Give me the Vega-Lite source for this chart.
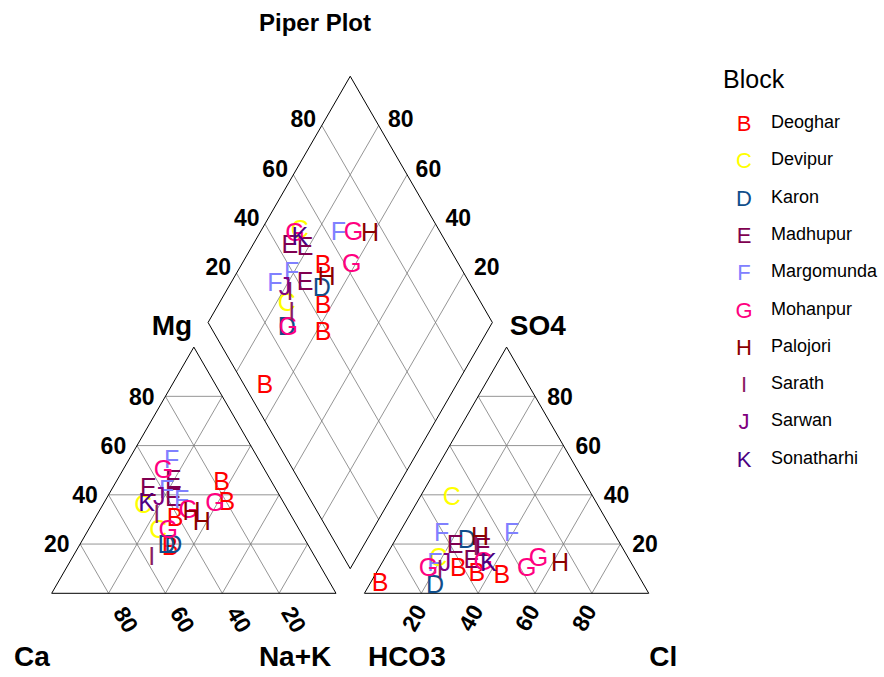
{
  "$schema": "https://vega.github.io/schema/vega-lite/v6.json",
  "width": 884,
  "height": 677,
  "autosize": {"type": "none"},
  "padding": 0,
  "background": "white",
  "config": {"view": {"stroke": null}, "font": "Liberation Sans"},
  "title": {"text": "Piper Plot", "fontSize": 24, "fontWeight": "bold", "font": "Liberation Sans", "color": "black", "anchor": "middle", "frame": "group", "dx": -127, "offset": -36},
  "datasets": {
    "grid": [
      {"x": 10, "y": 17.32, "x2": 90, "y2": 17.32},
      {"x": 20, "y": 34.64, "x2": 80, "y2": 34.64},
      {"x": 30, "y": 51.96, "x2": 70, "y2": 51.96},
      {"x": 40, "y": 69.28, "x2": 60, "y2": 69.28},
      {"x": 80, "y": 0, "x2": 40, "y2": 69.28},
      {"x": 60, "y": 0, "x2": 30, "y2": 51.96},
      {"x": 40, "y": 0, "x2": 20, "y2": 34.64},
      {"x": 20, "y": 0, "x2": 10, "y2": 17.32},
      {"x": 20, "y": 0, "x2": 60, "y2": 69.28},
      {"x": 40, "y": 0, "x2": 70, "y2": 51.96},
      {"x": 60, "y": 0, "x2": 80, "y2": 34.64},
      {"x": 80, "y": 0, "x2": 90, "y2": 17.32},
      {"x": 120, "y": 17.32, "x2": 200, "y2": 17.32},
      {"x": 130, "y": 34.64, "x2": 190, "y2": 34.64},
      {"x": 140, "y": 51.96, "x2": 180, "y2": 51.96},
      {"x": 150, "y": 69.28, "x2": 170, "y2": 69.28},
      {"x": 190, "y": 0, "x2": 150, "y2": 69.28},
      {"x": 170, "y": 0, "x2": 140, "y2": 51.96},
      {"x": 150, "y": 0, "x2": 130, "y2": 34.64},
      {"x": 130, "y": 0, "x2": 120, "y2": 17.32},
      {"x": 130, "y": 0, "x2": 170, "y2": 69.28},
      {"x": 150, "y": 0, "x2": 180, "y2": 51.96},
      {"x": 170, "y": 0, "x2": 190, "y2": 34.64},
      {"x": 190, "y": 0, "x2": 200, "y2": 17.32},
      {"x": 115, "y": 25.98, "x2": 65, "y2": 112.58},
      {"x": 125, "y": 43.30, "x2": 75, "y2": 129.9},
      {"x": 135, "y": 60.62, "x2": 85, "y2": 147.22},
      {"x": 145, "y": 77.94, "x2": 95, "y2": 164.54},
      {"x": 95, "y": 25.98, "x2": 145, "y2": 112.58},
      {"x": 85, "y": 43.30, "x2": 135, "y2": 129.9},
      {"x": 75, "y": 60.62, "x2": 125, "y2": 147.22},
      {"x": 65, "y": 77.94, "x2": 115, "y2": 164.54}
    ],
    "outline": [
      {"x": 0, "y": 0, "x2": 100, "y2": 0},
      {"x": 0, "y": 0, "x2": 50, "y2": 86.6},
      {"x": 100, "y": 0, "x2": 50, "y2": 86.6},
      {"x": 110, "y": 0, "x2": 210, "y2": 0},
      {"x": 110, "y": 0, "x2": 160, "y2": 86.6},
      {"x": 210, "y": 0, "x2": 160, "y2": 86.6},
      {"x": 105, "y": 8.66, "x2": 55, "y2": 95.26},
      {"x": 55, "y": 95.26, "x2": 105, "y2": 181.87},
      {"x": 105, "y": 181.87, "x2": 155, "y2": 95.26},
      {"x": 155, "y": 95.26, "x2": 105, "y2": 8.66}
    ],
    "ticks": [
      {"side": "plain", "label": "80", "x": 31.7, "y": 68.6},
      {"side": "plain", "label": "60", "x": 21.7, "y": 51.6},
      {"side": "plain", "label": "40", "x": 11.7, "y": 34.4},
      {"side": "plain", "label": "20", "x": 1.8, "y": 17.0},
      {"side": "plain", "label": "80", "x": 178.8, "y": 68.6},
      {"side": "plain", "label": "60", "x": 188.7, "y": 51.6},
      {"side": "plain", "label": "40", "x": 198.7, "y": 34.4},
      {"side": "plain", "label": "20", "x": 208.7, "y": 17.0},
      {"side": "plain", "label": "80", "x": 88.5, "y": 166.5},
      {"side": "plain", "label": "60", "x": 78.6, "y": 149.0},
      {"side": "plain", "label": "40", "x": 68.6, "y": 131.5},
      {"side": "plain", "label": "20", "x": 58.6, "y": 114.3},
      {"side": "plain", "label": "80", "x": 122.8, "y": 166.5},
      {"side": "plain", "label": "60", "x": 132.5, "y": 149.0},
      {"side": "plain", "label": "40", "x": 143.0, "y": 131.5},
      {"side": "plain", "label": "20", "x": 153.0, "y": 114.3},
      {"side": "cation", "label": "80", "x": 25.8, "y": -9.4},
      {"side": "cation", "label": "60", "x": 45.7, "y": -9.4},
      {"side": "cation", "label": "40", "x": 65.6, "y": -9.4},
      {"side": "cation", "label": "20", "x": 84.9, "y": -9.4},
      {"side": "anion", "label": "20", "x": 127.8, "y": -8.8},
      {"side": "anion", "label": "40", "x": 147.7, "y": -8.8},
      {"side": "anion", "label": "60", "x": 167.6, "y": -8.8},
      {"side": "anion", "label": "80", "x": 187.6, "y": -8.8}
    ],
    "names": [
      {"label": "Mg", "x": 42.3, "y": 93.7},
      {"label": "SO4", "x": 171.0, "y": 93.7},
      {"label": "Ca", "x": -7.0, "y": -22.9},
      {"label": "Na+K", "x": 85.6, "y": -22.9},
      {"label": "HCO3", "x": 124.9, "y": -22.9},
      {"label": "Cl", "x": 215.1, "y": -22.9}
    ],
    "blocks": [
      {"Block": "Deoghar"}, {"Block": "Devipur"}, {"Block": "Karon"}, {"Block": "Madhupur"}, {"Block": "Margomunda"},
      {"Block": "Mohanpur"}, {"Block": "Palojori"}, {"Block": "Sarath"}, {"Block": "Sarwan"}, {"Block": "Sonatharhi"}
    ],
    "points": [
      {"Block": "Deoghar", "letter": "B", "panel": "cation", "x": 59.8, "y": 39.3},
      {"Block": "Deoghar", "letter": "B", "panel": "cation", "x": 61.6, "y": 32.2},
      {"Block": "Deoghar", "letter": "B", "panel": "cation", "x": 43.4, "y": 26.4},
      {"Block": "Deoghar", "letter": "B", "panel": "cation", "x": 41.6, "y": 16.4},
      {"Block": "Deoghar", "letter": "B", "panel": "diamond", "x": 95.5, "y": 115.5},
      {"Block": "Deoghar", "letter": "B", "panel": "diamond", "x": 95.5, "y": 101.4},
      {"Block": "Deoghar", "letter": "B", "panel": "diamond", "x": 95.5, "y": 92.0},
      {"Block": "Deoghar", "letter": "B", "panel": "diamond", "x": 75.0, "y": 73.3},
      {"Block": "Deoghar", "letter": "B", "panel": "anion", "x": 115.5, "y": 3.5},
      {"Block": "Deoghar", "letter": "B", "panel": "anion", "x": 143.0, "y": 8.8},
      {"Block": "Deoghar", "letter": "B", "panel": "anion", "x": 149.5, "y": 7.0},
      {"Block": "Deoghar", "letter": "B", "panel": "anion", "x": 158.3, "y": 6.4},
      {"Block": "Devipur", "letter": "C", "panel": "cation", "x": 32.2, "y": 31.1},
      {"Block": "Devipur", "letter": "C", "panel": "cation", "x": 37.5, "y": 22.3},
      {"Block": "Devipur", "letter": "C", "panel": "diamond", "x": 87.3, "y": 127.8},
      {"Block": "Devipur", "letter": "C", "panel": "diamond", "x": 82.7, "y": 102.0},
      {"Block": "Devipur", "letter": "C", "panel": "anion", "x": 140.7, "y": 34.0},
      {"Block": "Devipur", "letter": "C", "panel": "anion", "x": 136.0, "y": 12.3},
      {"Block": "Karon", "letter": "D", "panel": "cation", "x": 40.4, "y": 17.0},
      {"Block": "Karon", "letter": "D", "panel": "cation", "x": 42.8, "y": 17.0},
      {"Block": "Karon", "letter": "D", "panel": "diamond", "x": 95.0, "y": 107.3},
      {"Block": "Karon", "letter": "D", "panel": "diamond", "x": 82.7, "y": 93.8},
      {"Block": "Karon", "letter": "D", "panel": "anion", "x": 146.0, "y": 18.7},
      {"Block": "Karon", "letter": "D", "panel": "anion", "x": 134.8, "y": 2.9},
      {"Block": "Madhupur", "letter": "E", "panel": "cation", "x": 42.8, "y": 39.9},
      {"Block": "Madhupur", "letter": "E", "panel": "cation", "x": 34.0, "y": 36.9},
      {"Block": "Madhupur", "letter": "E", "panel": "cation", "x": 42.8, "y": 33.4},
      {"Block": "Madhupur", "letter": "E", "panel": "diamond", "x": 83.8, "y": 122.5},
      {"Block": "Madhupur", "letter": "E", "panel": "diamond", "x": 89.1, "y": 121.9},
      {"Block": "Madhupur", "letter": "E", "panel": "diamond", "x": 89.1, "y": 109.6},
      {"Block": "Madhupur", "letter": "E", "panel": "anion", "x": 141.9, "y": 17.0},
      {"Block": "Madhupur", "letter": "E", "panel": "anion", "x": 147.8, "y": 11.7},
      {"Block": "Madhupur", "letter": "E", "panel": "anion", "x": 151.7, "y": 15.9},
      {"Block": "Margomunda", "letter": "F", "panel": "cation", "x": 42.2, "y": 46.9},
      {"Block": "Margomunda", "letter": "F", "panel": "cation", "x": 40.4, "y": 36.3},
      {"Block": "Margomunda", "letter": "F", "panel": "cation", "x": 45.7, "y": 32.8},
      {"Block": "Margomunda", "letter": "F", "panel": "diamond", "x": 100.8, "y": 127.2},
      {"Block": "Margomunda", "letter": "F", "panel": "diamond", "x": 84.4, "y": 113.1},
      {"Block": "Margomunda", "letter": "F", "panel": "diamond", "x": 78.5, "y": 109.0},
      {"Block": "Margomunda", "letter": "F", "panel": "anion", "x": 137.2, "y": 21.1},
      {"Block": "Margomunda", "letter": "F", "panel": "anion", "x": 161.8, "y": 21.1},
      {"Block": "Margomunda", "letter": "F", "panel": "anion", "x": 134.8, "y": 10.6},
      {"Block": "Mohanpur", "letter": "G", "panel": "cation", "x": 39.3, "y": 43.4},
      {"Block": "Mohanpur", "letter": "G", "panel": "cation", "x": 48.0, "y": 29.3},
      {"Block": "Mohanpur", "letter": "G", "panel": "cation", "x": 57.4, "y": 31.7},
      {"Block": "Mohanpur", "letter": "G", "panel": "cation", "x": 41.0, "y": 22.3},
      {"Block": "Mohanpur", "letter": "G", "panel": "diamond", "x": 85.6, "y": 126.6},
      {"Block": "Mohanpur", "letter": "G", "panel": "diamond", "x": 106.1, "y": 127.2},
      {"Block": "Mohanpur", "letter": "G", "panel": "diamond", "x": 105.5, "y": 115.8},
      {"Block": "Mohanpur", "letter": "G", "panel": "diamond", "x": 83.2, "y": 93.8},
      {"Block": "Mohanpur", "letter": "G", "panel": "anion", "x": 132.5, "y": 8.8},
      {"Block": "Mohanpur", "letter": "G", "panel": "anion", "x": 151.8, "y": 11.1},
      {"Block": "Mohanpur", "letter": "G", "panel": "anion", "x": 171.2, "y": 12.3},
      {"Block": "Mohanpur", "letter": "G", "panel": "anion", "x": 167.1, "y": 8.8},
      {"Block": "Palojori", "letter": "H", "panel": "cation", "x": 49.2, "y": 28.7},
      {"Block": "Palojori", "letter": "H", "panel": "cation", "x": 52.8, "y": 25.2},
      {"Block": "Palojori", "letter": "H", "panel": "diamond", "x": 112.0, "y": 126.6},
      {"Block": "Palojori", "letter": "H", "panel": "diamond", "x": 96.7, "y": 111.4},
      {"Block": "Palojori", "letter": "H", "panel": "anion", "x": 150.7, "y": 19.9},
      {"Block": "Palojori", "letter": "H", "panel": "anion", "x": 178.8, "y": 10.6},
      {"Block": "Sarath", "letter": "I", "panel": "cation", "x": 36.9, "y": 27.5},
      {"Block": "Sarath", "letter": "I", "panel": "cation", "x": 35.2, "y": 12.9},
      {"Block": "Sarath", "letter": "I", "panel": "diamond", "x": 83.8, "y": 106.0},
      {"Block": "Sarath", "letter": "I", "panel": "diamond", "x": 84.4, "y": 98.9},
      {"Block": "Sarath", "letter": "I", "panel": "anion", "x": 136.6, "y": 8.2},
      {"Block": "Sarath", "letter": "I", "panel": "anion", "x": 149.2, "y": 16.3},
      {"Block": "Sarwan", "letter": "J", "panel": "cation", "x": 37.8, "y": 34.0},
      {"Block": "Sarwan", "letter": "J", "panel": "diamond", "x": 82.1, "y": 107.8},
      {"Block": "Sarwan", "letter": "J", "panel": "anion", "x": 138.3, "y": 10.6},
      {"Block": "Sonatharhi", "letter": "K", "panel": "cation", "x": 33.4, "y": 31.7},
      {"Block": "Sonatharhi", "letter": "K", "panel": "diamond", "x": 87.3, "y": 125.4},
      {"Block": "Sonatharhi", "letter": "K", "panel": "anion", "x": 153.6, "y": 10.6}
    ]
  },
  "layer": [
    {
      "data": {"name": "grid"},
      "mark": {"type": "rule", "stroke": "#7a7a7a", "strokeWidth": 0.8},
      "encoding": {
        "x": {"field": "x", "type": "quantitative", "scale": {"domain": [-18.185, 292.75], "nice": false, "zero": false}, "axis": null},
        "y": {"field": "y", "type": "quantitative", "scale": {"domain": [-29.44, 208.69], "nice": false, "zero": false}, "axis": null},
        "x2": {"field": "x2"},
        "y2": {"field": "y2"}
      }
    },
    {
      "data": {"name": "outline"},
      "mark": {"type": "rule", "stroke": "black", "strokeWidth": 1},
      "encoding": {
        "x": {"field": "x", "type": "quantitative", "scale": {"domain": [-18.185, 292.75], "nice": false, "zero": false}, "axis": null},
        "y": {"field": "y", "type": "quantitative", "scale": {"domain": [-29.44, 208.69], "nice": false, "zero": false}, "axis": null},
        "x2": {"field": "x2"},
        "y2": {"field": "y2"}
      }
    },
    {
      "data": {"name": "ticks"},
      "transform": [{"filter": "datum.side === 'plain'"}],
      "mark": {"type": "text", "font": "Liberation Sans", "fontWeight": "bold", "fontSize": 23, "align": "center", "baseline": "middle", "color": "black"},
      "encoding": {
        "x": {"field": "x", "type": "quantitative", "axis": null},
        "y": {"field": "y", "type": "quantitative", "axis": null},
        "text": {"field": "label"}
      }
    },
    {
      "data": {"name": "ticks"},
      "transform": [{"filter": "datum.side === 'cation'"}],
      "mark": {"type": "text", "font": "Liberation Sans", "fontWeight": "bold", "fontSize": 23, "align": "center", "baseline": "middle", "angle": 60, "color": "black"},
      "encoding": {
        "x": {"field": "x", "type": "quantitative", "axis": null},
        "y": {"field": "y", "type": "quantitative", "axis": null},
        "text": {"field": "label"}
      }
    },
    {
      "data": {"name": "ticks"},
      "transform": [{"filter": "datum.side === 'anion'"}],
      "mark": {"type": "text", "font": "Liberation Sans", "fontWeight": "bold", "fontSize": 23, "align": "center", "baseline": "middle", "angle": 300, "color": "black"},
      "encoding": {
        "x": {"field": "x", "type": "quantitative", "axis": null},
        "y": {"field": "y", "type": "quantitative", "axis": null},
        "text": {"field": "label"}
      }
    },
    {
      "data": {"name": "names"},
      "mark": {"type": "text", "font": "Liberation Sans", "fontWeight": "bold", "fontSize": 28, "align": "center", "baseline": "middle", "color": "black"},
      "encoding": {
        "x": {"field": "x", "type": "quantitative", "axis": null},
        "y": {"field": "y", "type": "quantitative", "axis": null},
        "text": {"field": "label"}
      }
    },
    {
      "data": {"name": "points"},
      "mark": {"type": "text", "font": "Liberation Sans", "fontSize": 25, "align": "center", "baseline": "middle"},
      "encoding": {
        "x": {"field": "x", "type": "quantitative", "axis": null},
        "y": {"field": "y", "type": "quantitative", "axis": null},
        "text": {"field": "letter"},
        "color": {
          "field": "Block",
          "type": "nominal",
          "scale": {
            "domain": ["Deoghar", "Devipur", "Karon", "Madhupur", "Margomunda", "Mohanpur", "Palojori", "Sarath", "Sarwan", "Sonatharhi"],
            "range": ["#FF0000", "#FFFF00", "#104E8B", "#800050", "#8080FF", "#FF0080", "#8B0000", "#8B1C62", "#800080", "#4B0082"]
          },
          "legend": {
            "orient": "none",
            "legendX": 723,
            "legendY": 68,
            "padding": 0,
            "title": "Block",
            "titleFont": "Liberation Sans",
            "titleFontSize": 25,
            "titleFontWeight": "normal",
            "titleColor": "black",
            "titlePadding": 20,
            "symbolOpacity": 0,
            "symbolSize": 1,
            "symbolStrokeWidth": 0,
            "labelFont": "Liberation Sans",
            "labelFontSize": 22,
            "labelAlign": "center",
            "labelOffset": -1,
            "labelColor": {"expr": "scale('color', datum.value)"},
            "labelExpr": "{'Deoghar':'B','Devipur':'C','Karon':'D','Madhupur':'E','Margomunda':'F','Mohanpur':'G','Palojori':'H','Sarath':'I','Sarwan':'J','Sonatharhi':'K'}[datum.label]",
            "rowPadding": 15.3
          }
        }
      }
    },
    {
      "data": {"name": "blocks"},
      "mark": {"type": "point", "opacity": 0},
      "encoding": {
        "shape": {
          "field": "Block",
          "type": "nominal",
          "legend": {
            "orient": "none",
            "legendX": 745,
            "legendY": 114,
            "padding": 0,
            "title": null,
            "symbolOpacity": 0,
            "symbolSize": 1,
            "symbolStrokeWidth": 0,
            "labelFont": "Liberation Sans",
            "labelFontSize": 18,
            "labelColor": "black",
            "labelOffset": 8,
            "rowPadding": 19.3
          }
        }
      }
    }
  ]
}
